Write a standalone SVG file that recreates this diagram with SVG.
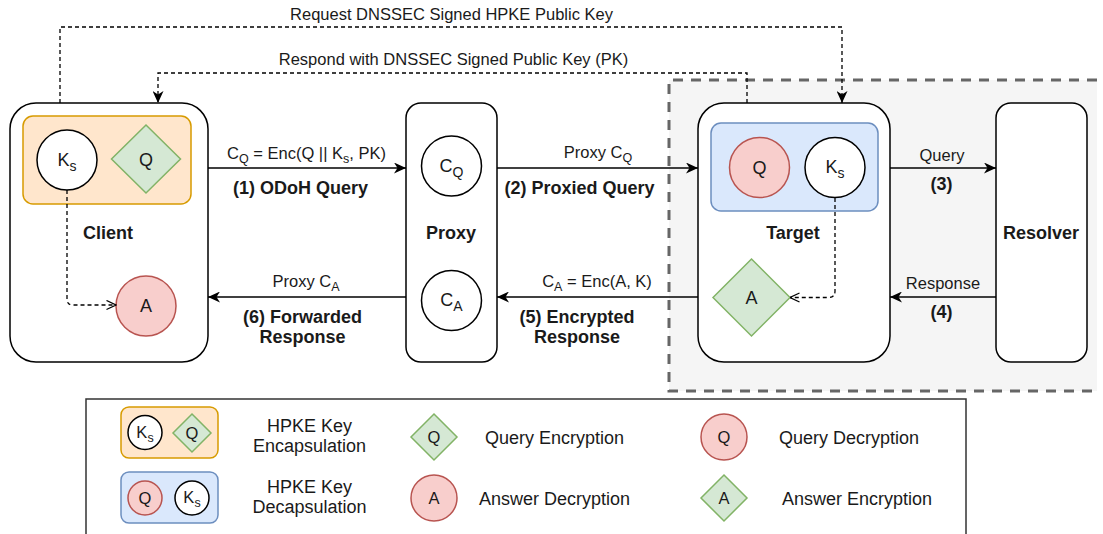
<svg xmlns="http://www.w3.org/2000/svg" width="1103" height="534" viewBox="0 0 1103 534">
<defs>
<style>
text{font-family:"Liberation Sans",Arial,sans-serif;fill:#1a1a1a}
.lbl{font-size:16.5px}
.b{font-size:18px;font-weight:bold}
.ct{font-size:18px}
.lg{font-size:18px}
.lgs{font-size:16.5px}
.sub{font-size:12.5px}
.csub{font-size:14px}
.node{fill:#fff;stroke:#000;stroke-width:1.5}
.enc{fill:#ffe6cc;stroke:#d79b00;stroke-width:1.5}
.dec{fill:#dae8fc;stroke:#6c8ebf;stroke-width:1.5}
.red{fill:#f8cecc;stroke:#b85450;stroke-width:1.5}
.grn{fill:#d5e8d4;stroke:#82b366;stroke-width:1.5}
.wc{fill:#fff;stroke:#000;stroke-width:1.5}
.edge{fill:none;stroke:#000;stroke-width:1.5}
.dash{fill:none;stroke:#000;stroke-width:1.3;stroke-dasharray:4 3}
</style>
<marker id="arr" viewBox="0 0 12 11" markerWidth="12" markerHeight="11" refX="12" refY="5.5" orient="auto" markerUnits="userSpaceOnUse">
<path d="M0,0 L12,5.5 L0,11 L3.5,5.5 Z" fill="#000"/>
</marker>
<marker id="open" viewBox="0 0 11 11" markerWidth="11" markerHeight="11" refX="10.5" refY="5.5" orient="auto" markerUnits="userSpaceOnUse">
<path d="M1,1 L10.5,5.5 L1,10" fill="none" stroke="#000" stroke-width="1.3"/>
</marker>
</defs>

<g id="target-zone">
<rect x="669" y="80" width="428" height="311" fill="#f5f5f5"/>
<path d="M1097,80 H669 V391 H1097" fill="none" stroke="#666" stroke-width="3" stroke-dasharray="10 8"/>
</g>

<g id="client">
<rect class="node" x="10" y="103" width="198" height="259" rx="26"/>
<rect class="enc" x="23" y="116" width="168" height="88" rx="10"/>
<circle class="wc" cx="67" cy="160" r="30"/>
<text class="ct" x="67" y="166" text-anchor="middle">K<tspan class="csub" dy="5">s</tspan></text>
<polygon class="grn" points="146,125 180.5,159 146,193 111.5,159"/>
<text class="ct" x="146" y="166" text-anchor="middle">Q</text>
<text class="b" x="108" y="239" text-anchor="middle">Client</text>
<circle class="red" cx="146" cy="306" r="30"/>
<text class="ct" x="146" y="312" text-anchor="middle">A</text>
</g>

<g id="proxy">
<rect class="node" x="406" y="103" width="91" height="259" rx="15"/>
<circle class="wc" cx="451.5" cy="166" r="30"/>
<text class="ct" x="451.5" y="172" text-anchor="middle">C<tspan class="csub" dy="5">Q</tspan></text>
<text class="b" x="451" y="239" text-anchor="middle">Proxy</text>
<circle class="wc" cx="451.5" cy="300.5" r="30"/>
<text class="ct" x="451.5" y="306" text-anchor="middle">C<tspan class="csub" dy="5">A</tspan></text>
</g>

<g id="target">
<rect class="node" x="698" y="103" width="192" height="259" rx="26"/>
<rect class="dec" x="711" y="123" width="167" height="88" rx="10"/>
<circle class="red" cx="759.5" cy="167.5" r="30"/>
<text class="ct" x="759.5" y="174" text-anchor="middle">Q</text>
<circle class="wc" cx="835" cy="167.5" r="30"/>
<text class="ct" x="835" y="173" text-anchor="middle">K<tspan class="csub" dy="5">s</tspan></text>
<text class="b" x="793" y="239" text-anchor="middle">Target</text>
<polygon class="grn" points="751.5,259 790,297.5 751.5,336 713,297.5"/>
<text class="ct" x="751.5" y="304" text-anchor="middle">A</text>
</g>

<g id="resolver">
<rect class="node" x="996" y="103" width="91" height="259" rx="15"/>
<text class="b" x="1041" y="239" text-anchor="middle">Resolver</text>
</g>

<g id="connectors">
<path class="dash" d="M60,103 V27 H842 V103" marker-end="url(#arr)"/>
<text class="lbl" x="451.5" y="20" text-anchor="middle">Request DNSSEC Signed HPKE Public Key</text>
<path class="dash" d="M747,103 V73 H158 V103" marker-end="url(#arr)"/>
<text class="lbl" x="453.5" y="65" text-anchor="middle">Respond with DNSSEC Signed Public Key (PK)</text>

<path class="dash" d="M67,190 V299 Q67,305 73,305 H116" marker-end="url(#open)"/>
<path class="dash" d="M835,198 V291 Q835,297.5 828.5,297.5 H790" marker-end="url(#open)"/>

<path class="edge" d="M208,168 H406" marker-end="url(#arr)"/>
<text class="lbl" x="306.5" y="159" text-anchor="middle">C<tspan class="sub" dy="4">Q</tspan><tspan dy="-4"> = Enc(Q || K</tspan><tspan class="sub" dy="4">s</tspan><tspan dy="-4">, PK)</tspan></text>
<text class="b" x="300.5" y="194" text-anchor="middle">(1) ODoH Query</text>

<path class="edge" d="M497,168 H698" marker-end="url(#arr)"/>
<text class="lbl" x="598" y="158" text-anchor="middle">Proxy C<tspan class="sub" dy="4">Q</tspan></text>
<text class="b" x="579.5" y="194" text-anchor="middle">(2) Proxied Query</text>

<path class="edge" d="M890,168 H996" marker-end="url(#arr)"/>
<text class="lbl" x="942" y="161" text-anchor="middle">Query</text>
<text class="b" x="941.5" y="190" text-anchor="middle">(3)</text>

<path class="edge" d="M996,297 H890" marker-end="url(#arr)"/>
<text class="lbl" x="943" y="289" text-anchor="middle">Response</text>
<text class="b" x="941.5" y="318" text-anchor="middle">(4)</text>

<path class="edge" d="M698,297 H497" marker-end="url(#arr)"/>
<text class="lbl" x="597" y="287" text-anchor="middle">C<tspan class="sub" dy="4">A</tspan><tspan dy="-4"> = Enc(A, K)</tspan></text>
<text class="b" x="577" y="323" text-anchor="middle">(5) Encrypted</text>
<text class="b" x="577" y="343" text-anchor="middle">Response</text>

<path class="edge" d="M406,297 H208" marker-end="url(#arr)"/>
<text class="lbl" x="306" y="287" text-anchor="middle">Proxy C<tspan class="sub" dy="4">A</tspan></text>
<text class="b" x="302.5" y="323" text-anchor="middle">(6) Forwarded</text>
<text class="b" x="302.5" y="343" text-anchor="middle">Response</text>
</g>

<g id="legend">
<rect x="86" y="399" width="880" height="200" fill="#fff" stroke="#333" stroke-width="1.5"/>
<rect class="enc" x="121" y="407" width="97" height="51" rx="8"/>
<circle class="wc" cx="145" cy="432.5" r="17"/>
<text class="lgs" x="145" y="438" text-anchor="middle">K<tspan class="sub" dy="4">s</tspan></text>
<polygon class="grn" points="192,414 211,433 192,452 173,433"/>
<text class="lgs" x="192" y="439" text-anchor="middle">Q</text>
<text class="lg" x="309.5" y="432" text-anchor="middle">HPKE Key</text>
<text class="lg" x="309.5" y="452" text-anchor="middle">Encapsulation</text>

<rect class="dec" x="121" y="472" width="97" height="51" rx="8"/>
<circle class="red" cx="145" cy="498" r="17"/>
<text class="lgs" x="145" y="504" text-anchor="middle">Q</text>
<circle class="wc" cx="192" cy="498" r="17"/>
<text class="lgs" x="192" y="503" text-anchor="middle">K<tspan class="sub" dy="4">s</tspan></text>
<text class="lg" x="309.5" y="493" text-anchor="middle">HPKE Key</text>
<text class="lg" x="309.5" y="513" text-anchor="middle">Decapsulation</text>

<polygon class="grn" points="434,414 457,437 434,460 411,437"/>
<text class="lgs" x="434" y="443" text-anchor="middle">Q</text>
<text class="lg" x="485" y="444">Query Encryption</text>

<circle class="red" cx="434" cy="498" r="23"/>
<text class="lgs" x="434" y="504" text-anchor="middle">A</text>
<text class="lg" x="479" y="505">Answer Decryption</text>

<circle class="red" cx="724" cy="437" r="23"/>
<text class="lgs" x="724" y="443" text-anchor="middle">Q</text>
<text class="lg" x="779" y="444">Query Decryption</text>

<polygon class="grn" points="724,475 747,498 724,521 701,498"/>
<text class="lgs" x="724" y="504" text-anchor="middle">A</text>
<text class="lg" x="782" y="505">Answer Encryption</text>
</g>
</svg>
